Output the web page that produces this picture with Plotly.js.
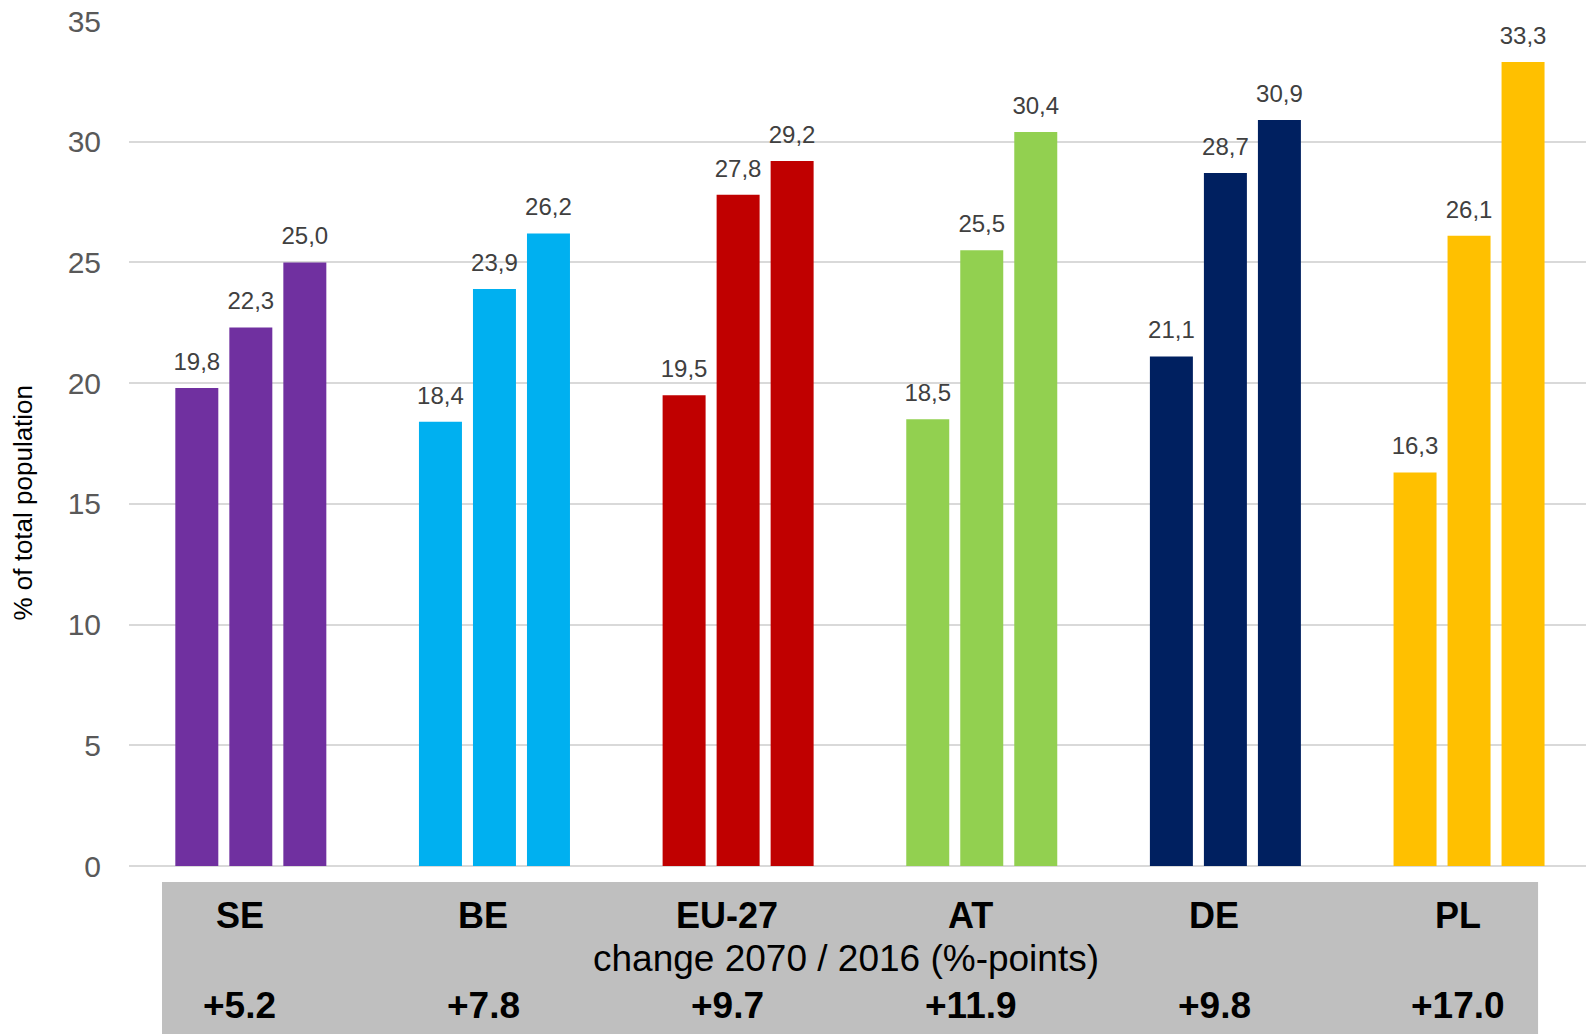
<!DOCTYPE html>
<html>
<head>
<meta charset="utf-8">
<script src="https://cdn.plot.ly/plotly-3.0.1.min.js"></script>
<style>
  html, body { margin: 0; padding: 0; background: #ffffff; }
  #chart { width: 1586px; height: 1034px; }
</style>
</head>
<body>
<div id="chart"></div>
<script>
// Share of population aged 65+ (% of total population)
const countries = ['SE', 'BE', 'EU-27', 'AT', 'DE', 'PL'];
const share2016 = [19.8, 18.4, 19.5, 18.5, 21.1, 16.3];
const share2040 = [22.3, 23.9, 27.8, 25.5, 28.7, 26.1];
const share2070 = [25.0, 26.2, 29.2, 30.4, 30.9, 33.3];
const countryColors = ['#7030A0', '#00B0F0', '#C00000', '#92D050', '#002060', '#FFC000'];
const yTicks = [0, 5, 10, 15, 20, 25, 30, 35];
const yTitle = '% of total population';
const changeCaption = 'change 2070 / 2016 (%-points)';

const FONT = 'Liberation Sans, Arial, sans-serif';
const GAP = 0.335;

function barTrace(name, values) {
  return {
    type: 'bar',
    name: name,
    x: countries,
    y: values,
    marker: { color: countryColors, line: { width: 0 } },
    hoverinfo: 'x+y',
    showlegend: false
  };
}

// Value labels sit on grouped text points aligned with the bar slots
function labelTrace(name, values) {
  return {
    type: 'scatter',
    mode: 'markers+text',
    name: name,
    x: countries,
    y: values,
    texttemplate: '%{y:.1f}',
    textposition: 'top center',
    cliponaxis: false,
    marker: { size: 18, opacity: 0 },
    textfont: { family: FONT, size: 24, color: '#404040' },
    hoverinfo: 'skip',
    showlegend: false
  };
}

const traces = [
  barTrace('2016', share2016),
  barTrace('2040', share2040),
  barTrace('2070', share2070),
  labelTrace('2016', share2016),
  labelTrace('2040', share2040),
  labelTrace('2070', share2070)
];

// Change between first and last projection year, in percentage points
const changes = share2070.map((v, i) => v - share2016[i]);

const annotations = [];
countries.forEach((c, i) => {
  annotations.push({
    x: c, xref: 'x', y: -0.058, yref: 'paper',
    xshift: -11,
    text: '<b>' + c + '</b>', showarrow: false,
    xanchor: 'center', yanchor: 'middle',
    font: { family: FONT, size: 36, color: '#000000' }
  });
  annotations.push({
    x: c, xref: 'x', y: -0.1645, yref: 'paper',
    xshift: -11,
    text: '<b>+' + changes[i].toFixed(1) + '</b>', showarrow: false,
    xanchor: 'center', yanchor: 'middle',
    font: { family: FONT, size: 37, color: '#000000' }
  });
});
annotations.push({
  x: 0.4918, xref: 'paper', y: -0.110, yref: 'paper',
  text: changeCaption, showarrow: false,
  xanchor: 'center', yanchor: 'middle',
  font: { family: FONT, size: 37, color: '#000000' }
});
annotations.push({
  x: -0.0728, xref: 'paper', y: 0.430, yref: 'paper',
  text: yTitle, showarrow: false, textangle: -90,
  xanchor: 'center', yanchor: 'middle',
  font: { family: FONT, size: 26, color: '#000000' }
});

const layout = {
  width: 1586,
  height: 1034,
  margin: { l: 129, r: 0, t: 21, b: 168, pad: 0 },
  paper_bgcolor: '#ffffff',
  plot_bgcolor: '#ffffff',
  separators: ', ',
  barmode: 'group',
  bargap: GAP,
  bargroupgap: 0.204,
  scattermode: 'group',
  scattergap: GAP,
  font: { family: FONT },
  xaxis: {
    type: 'category',
    range: [-0.5, 5.48],
    showticklabels: false,
    showgrid: false,
    zeroline: false,
    showline: false,
    ticks: ''
  },
  yaxis: {
    range: [0, 35],
    tickvals: yTicks,
    ticks: '',
    ticklabelstandoff: 27,
    tickfont: { family: FONT, size: 30, color: '#595959' },
    showgrid: true,
    gridcolor: '#D9D9D9',
    gridwidth: 2,
    zeroline: true,
    zerolinecolor: '#D9D9D9',
    zerolinewidth: 2,
    showline: false
  },
  shapes: [{
    type: 'rect', xref: 'paper', yref: 'paper',
    x0: 0.02265, x1: 0.9671, y0: -0.0189, y1: -0.21,
    fillcolor: '#BFBFBF', line: { width: 0 }, layer: 'below'
  }],
  annotations: annotations
};

Plotly.newPlot('chart', traces, layout, { displayModeBar: false, staticPlot: true });
</script>
</body>
</html>
